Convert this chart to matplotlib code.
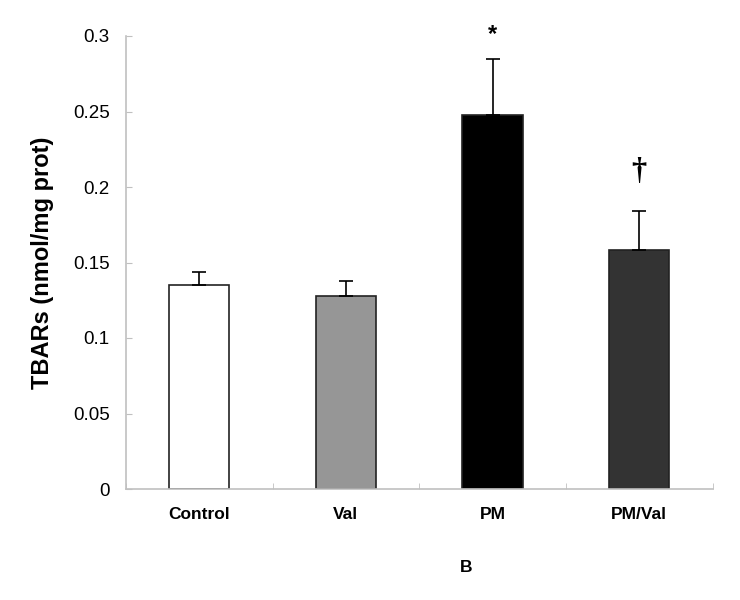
import matplotlib.pyplot as plt
import numpy as np

categories = ['Control', 'Val', 'PM', 'PM/Val']
means = [0.135, 0.128, 0.248, 0.158]
errors = [0.009, 0.010, 0.037, 0.026]
bar_colors = ['#ffffff', '#969696', '#000000', '#333333']
marks = ['', '', '*', '\u2020']
mark_levels = [None, None, 0.301, 0.210]

plt.rcParams['font.family'] = ['Liberation Sans', 'DejaVu Sans']

fig = plt.figure(figsize=(7.4, 6), dpi=100)
ax = fig.add_axes([0.170, 0.185, 0.793, 0.755])

x = np.arange(len(categories))
ax.bar(x, means, width=0.41, color=bar_colors, edgecolor='#222222', linewidth=1.2, zorder=2)
ax.errorbar(x, means, yerr=[np.zeros(len(errors)), errors], fmt='none', ecolor='black',
            elinewidth=1.2, capsize=5, capthick=1.2, zorder=3)

# Signifikanz-Zeichen über den Fehlerbalken
for xi, mk, lvl in zip(x, marks, mark_levels):
    if not mk:
        continue
    if mk == '*':
        ax.text(xi, lvl, mk, ha='center', va='center', fontsize=17, fontweight='bold', clip_on=False)
    else:
        ax.text(xi, lvl, mk, ha='center', va='center', fontsize=22, fontweight='bold',
                family=['Liberation Serif', 'DejaVu Serif'], clip_on=False)

ax.set_xlim(-0.5, len(categories) - 0.5)
ax.set_ylim(0, 0.3)
ax.set_yticks([0, 0.05, 0.1, 0.15, 0.2, 0.25, 0.3])
ax.set_yticklabels(['0', '0.05', '0.1', '0.15', '0.2', '0.25', '0.3'], fontsize=13.5)
ax.set_xticks(x)
ax.set_xticklabels(categories, fontsize=12.5, fontweight='bold')
ax.set_xticks(np.arange(-0.5, len(categories)), minor=True)
ax.tick_params(axis='x', which='major', length=0, pad=13)
ax.tick_params(axis='x', which='minor', length=4.5, color='#c0c0c0', direction='in')
ax.tick_params(axis='y', length=4.5, color='#c0c0c0', direction='in', pad=11.5)

for side in ['top', 'right']:
    ax.spines[side].set_visible(False)
for side in ['left', 'bottom']:
    ax.spines[side].set_color('#c0c0c0')
    ax.spines[side].set_linewidth(1.2)

ax.set_ylabel('TBARs (nmol/mg prot)', fontsize=17, fontweight='bold', labelpad=14)
fig.text(466 / 740, 1 - 568 / 600, 'B', ha='center', va='center', fontsize=12.5, fontweight='bold')

fig.savefig('out.png', dpi=100)
